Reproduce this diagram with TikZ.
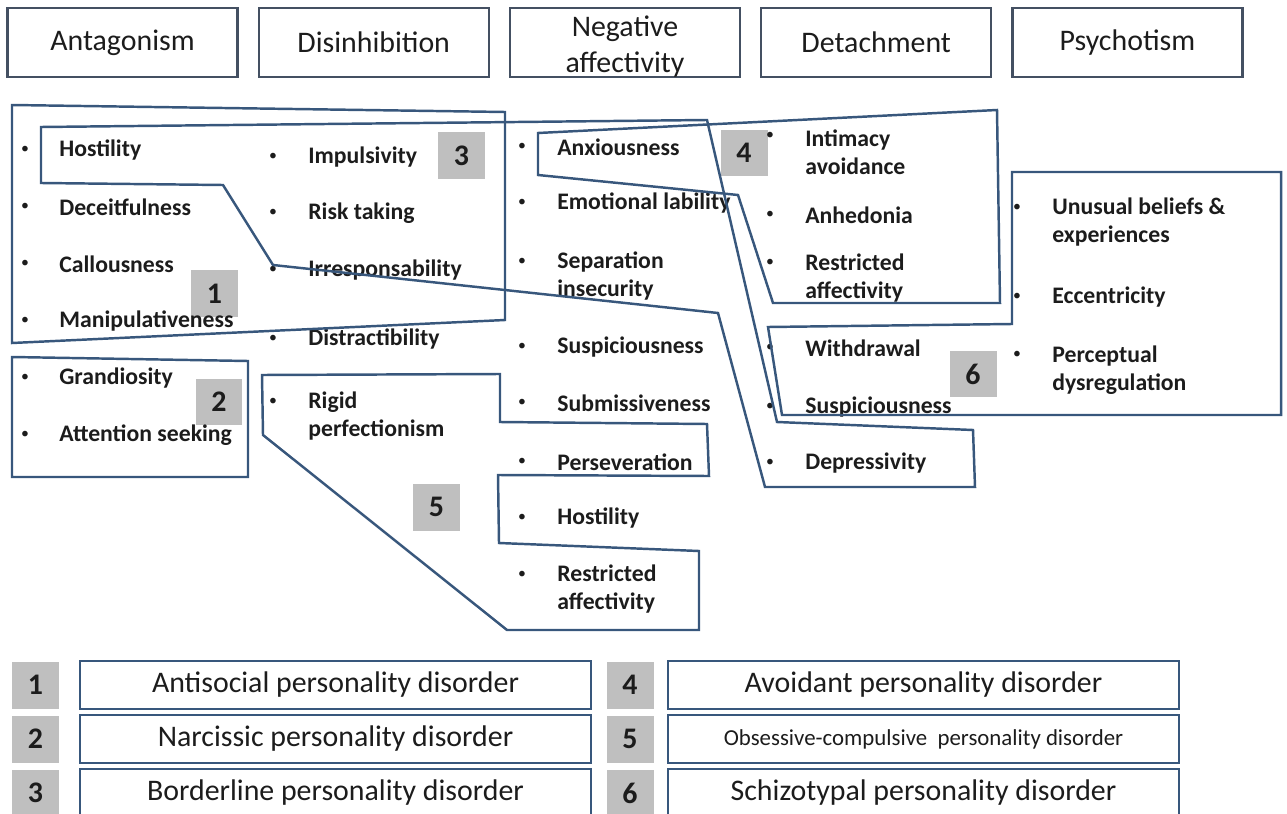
\documentclass[tikz,border=0pt]{standalone}
\usepackage{fontspec}
\setmainfont{Carlito}
\usetikzlibrary{positioning}
\definecolor{frameblue}{RGB}{56,87,124}
\definecolor{boxedge}{RGB}{68,80,98}
\definecolor{taggray}{RGB}{191,191,191}
\definecolor{inkdark}{RGB}{28,28,28}

\tikzset{
  domainbox/.style={draw=boxedge,line width=1.3pt,minimum width=4.6cm,minimum height=1.38cm,
    inner sep=0pt,align=center,font=\fontsize{17}{20.4}\selectfont,text=inkdark},
  trait/.style={anchor=west,inner sep=0pt,align=left,font=\fontsize{13.5}{16}\selectfont\bfseries,text=inkdark},
  bulletdot/.style={inner sep=0pt,font=\fontsize{9}{10}\selectfont,text=inkdark},
  numtag/.style={fill=taggray,minimum size=0.94cm,inner sep=0pt,font=\fontsize{17}{20}\selectfont\bfseries,text=inkdark},
  legbox/.style={draw=frameblue,line width=1.6pt,minimum width=10.22cm,minimum height=0.96cm,
    inner sep=0pt,font=\fontsize{17}{20}\selectfont,text=inkdark},
  cluster/.style={draw=frameblue,line width=1.4pt,line join=miter},
}

\begin{document}
\begin{tikzpicture}[x=0.02cm,y=-0.02cm]
  \useasboundingbox (0,0) rectangle (1287,814);

  % trait domains
  \node[domainbox] (dom1) at (122.5,42.5) {Antagonism};
  \node[domainbox,right=0.38cm of dom1] (dom2) {Disinhibition};
  \node[domainbox,right=0.38cm of dom2] (dom3) {\rule{0pt}{0.58cm}Negative\\affectivity};
  \node[domainbox,right=0.38cm of dom3] (dom4) {Detachment};
  \node[domainbox,right=0.38cm of dom4] (dom5) {Psychotism};

  % number tags inside the chart
  \node[numtag] (tag1) at (214.5,293.5) {1};
  \node[numtag] (tag2) at (219,402) {2};
  \node[numtag] (tag3) at (461.5,155.5) {3};
  \node[numtag] (tag4) at (744,153) {4};
  \node[numtag] (tag5) at (436.5,507) {5};
  \node[numtag] (tag6) at (973,374) {6};

  % facets
  \foreach \by/\ty/\txt [count=\k] in {150/150/Hostility,207/207/Deceitfulness,264/264/Callousness,
      321/321/Manipulativeness,378/378/Grandiosity,435/435/Attention seeking}
    {\node[bulletdot] (ant\k b) at (25,\by) {\textbullet};
     \node[trait] (ant\k) at (59,\ty) {\txt};}
  \foreach \by/\ty/\txt [count=\k] in {157/157/Impulsivity,213/213/Risk taking,270/270/Irresponsability,
      339/339/Distractibility,402/416/{Rigid\\perfectionism}}
    {\node[bulletdot] (dis\k b) at (273,\by) {\textbullet};
     \node[trait] (dis\k) at (308,\ty) {\txt};}
  \foreach \by/\ty/\txt [count=\k] in {147/147/Anxiousness,203/203/Emotional lability,
      262/276/{Separation\\insecurity},347/347/Suspiciousness,403/403/Submissiveness,
      462/462/Perseveration,518/518/Hostility,575/589/{Restricted\\affectivity}}
    {\node[bulletdot] (neg\k b) at (522,\by) {\textbullet};
     \node[trait] (neg\k) at (557,\ty) {\txt};}
  \foreach \by/\ty/\txt [count=\k] in {136/152/{Intimacy\\avoidance},215/215/Anhedonia,
      263/278/{Restricted\\affectivity},348/348/Withdrawal,407/407/Suspiciousness,463/463/Depressivity}
    {\node[bulletdot] (det\k b) at (770,\by) {\textbullet};
     \node[trait] (det\k) at (805,\ty) {\txt};}
  \foreach \by/\ty/\txt [count=\k] in {208/222/{Unusual beliefs \&\\experiences},297/297/Eccentricity,
      355/370/{Perceptual\\dysregulation}}
    {\node[bulletdot] (psy\k b) at (1017,\by) {\textbullet};
     \node[trait] (psy\k) at (1052,\ty) {\txt};}

  % disorder outlines
  \draw[cluster] (12,105) -- (505,112) -- (505,320) -- (12,343) -- cycle;
  \draw[cluster] (12,357) -- (248,361) -- (248,477) -- (12,477) -- cycle;
  \draw[cluster] (41,127) -- (707,120) -- (777,422) -- (973,430) -- (975,487) -- (765,487)
    -- (718,313) -- (273,265) -- (223,185) -- (41,183) -- cycle;
  \draw[cluster] (538,133) -- (997,110) -- (1000,303) -- (773,303) -- (738,195) -- (538,175) -- cycle;
  \draw[cluster] (262,375) -- (500,374) -- (500,422) -- (707,424) -- (709,476) -- (498,475)
    -- (499,543) -- (699,551) -- (699,630) -- (507,630) -- (263,435) -- cycle;
  \draw[cluster] (1012,172) -- (1281,172) -- (1281,415) -- (782,415) -- (768,327) -- (1012,324) -- cycle;

  % legend
  \foreach \y/\na/\ta/\nb/\tb [count=\k] in {685/1/Antisocial personality disorder/4/Avoidant personality disorder,
      739/2/Narcissic personality disorder/5/{\fontsize{13}{15}\selectfont Obsessive-compulsive\ \ personality disorder},
      793/3/Borderline personality disorder/6/Schizotypal personality disorder}
    {\node[numtag] (keyl\k) at (35.5,\y) {\na};
     \node[legbox] (legl\k) at (335.5,\y) {\ta};
     \node[numtag] (keyr\k) at (630,\y) {\nb};
     \node[legbox] (legr\k) at (923.5,\y) {\tb};}
\end{tikzpicture}
\end{document}
